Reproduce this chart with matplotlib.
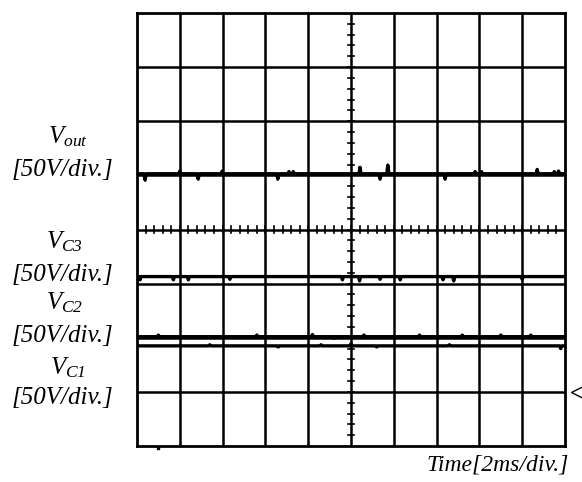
import numpy as np
import matplotlib.pyplot as plt

plt.rcParams['mathtext.fontset'] = 'custom'
plt.rcParams['mathtext.rm'] = 'Liberation Serif:italic'
plt.rcParams['mathtext.it'] = 'Liberation Serif:italic'

# screen: 10 x 8 divisions, time in div, voltage in div from bottom
n_xdiv, n_ydiv = 10, 8

# trace baselines (div)
vout_level = 5.03
vc3_level = 3.13
vc2_level = 2.02
vc1_level = 1.85

# glitches on each trace: (time [div], offset [div])
vout_spikes = [(0.19, -0.12), (1.0, 0.05), (1.43, -0.1), (1.99, 0.05), (3.29, -0.1),
               (3.55, 0.04), (3.65, 0.04), (5.21, 0.12), (5.68, -0.1), (5.86, 0.16),
               (7.2, -0.1), (7.9, 0.04), (8.05, 0.04), (9.35, 0.08), (9.75, 0.04), (9.85, 0.05)]
vc3_spikes = [(0.07, -0.06), (0.85, -0.06), (1.2, -0.06), (2.17, -0.05), (4.8, -0.06),
              (5.2, -0.08), (5.68, -0.05), (6.15, -0.06), (7.15, -0.06), (7.4, -0.08), (9.0, -0.05)]
vc2_spikes = [(0.5, 0.03), (2.8, 0.03), (4.1, 0.04), (4.6, -0.03), (5.3, 0.03),
              (6.6, 0.03), (7.6, 0.03), (8.5, 0.03), (9.2, 0.03)]
vc1_spikes = [(1.7, 0.02), (3.3, -0.02), (4.3, 0.02), (5.0, 0.04), (5.6, -0.02),
              (7.3, 0.02), (9.9, -0.05)]

labels = [
    (r'$V_{out}$', 68, 137),
    ('[50V/div.]', 62, 170),
    (r'$V_{C3}$', 65, 242),
    ('[50V/div.]', 62, 275),
    (r'$V_{C2}$', 65, 303),
    ('[50V/div.]', 62, 336),
    (r'$V_{C1}$', 68, 368),
    ('[50V/div.]', 62, 398),
]


def trace(level, spikes):
    t = [0.0]
    v = [level]
    for ts, dv in spikes:
        t += [ts - 0.025, ts, ts + 0.025]
        v += [level, level + dv, level]
    t.append(10.0)
    v.append(level)
    return t, v


W, H = 582, 482
fig = plt.figure(figsize=(W / 100, H / 100), dpi=100)
ax = fig.add_axes([137 / W, 1 - 446 / H, 428 / W, 433 / H])
ax.set_xlim(0, n_xdiv)
ax.set_ylim(0, n_ydiv)
ax.set_xticks([])
ax.set_yticks([])
for s in ax.spines.values():
    s.set_linewidth(2.0)

for x in range(1, n_xdiv):
    ax.axvline(x, color='black', lw=1.8)
for y in range(1, n_ydiv):
    ax.axhline(y, color='black', lw=1.8)

# minor ticks on the centre cross
for x in np.arange(0.2, n_xdiv, 0.2):
    ax.plot([x, x], [4 - 0.06, 4 + 0.06], color='black', lw=1.2)
for y in np.arange(0.2, n_ydiv, 0.2):
    ax.plot([5 - 0.08, 5 + 0.08], [y, y], color='black', lw=1.2)

for level, spikes in [(vout_level, vout_spikes), (vc3_level, vc3_spikes),
                      (vc2_level, vc2_spikes), (vc1_level, vc1_spikes)]:
    t, v = trace(level, spikes)
    ax.plot(t, v, color='black', lw=2.4)

# ground marker and stray dot
ax.plot(10.3, 1.0, marker='<', ms=10, mfc='white', mec='black', mew=1, clip_on=False)
ax.plot(0.49, -0.04, marker='s', ms=2, color='black', clip_on=False)

for txt, x, y in labels:
    fig.text(x / W, 1 - y / H, txt, ha='center', va='center', fontsize=18,
             family='Liberation Serif', style='italic')

fig.text(569 / W, 1 - 465 / H, 'Time[2ms/div.]', ha='right', va='center', fontsize=17,
         family='Liberation Serif', style='italic')

plt.savefig('out.png', dpi=100)
